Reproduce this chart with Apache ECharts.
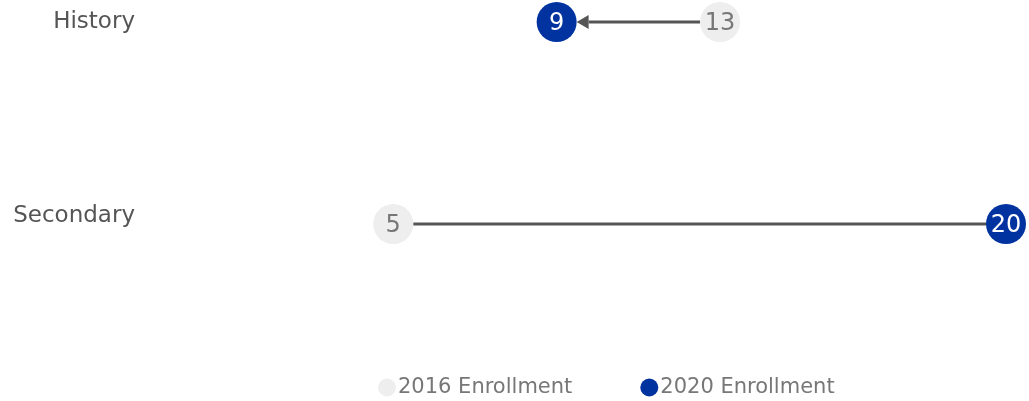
<!DOCTYPE html>
<html>
<head>
<meta charset="utf-8">
<script src="https://cdn.jsdelivr.net/npm/echarts@6/dist/echarts.min.js"></script>
<style>
  html, body { margin: 0; padding: 0; background: #fff; }
  #main { width: 1029px; height: 401px; }
</style>
</head>
<body>
<div id="main"></div>
<script>
// data
var categories = ['History', 'Secondary'];
var enroll2016 = [13, 5];
var enroll2020 = [9, 20];
var seriesNames = ['2016 Enrollment', '2020 Enrollment'];

var FONT = 'DejaVu Sans';
var R = 20; // circle radius

var chart = echarts.init(document.getElementById('main'));

// pairs for connecting lines: [from, to, categoryIndex]
var pairs = categories.map(function (c, i) {
  return [enroll2016[i], enroll2020[i], i];
});

var option = {
  backgroundColor: '#fff',
  animation: false,
  grid: { left: 189, right: 23, top: 22, bottom: 177 },
  xAxis: {
    type: 'value',
    min: 0,
    max: 20,
    show: false
  },
  yAxis: {
    type: 'category',
    data: categories,
    inverse: true,
    boundaryGap: false,
    axisLine: { show: false },
    axisTick: { show: false },
    splitLine: { show: false },
    axisLabel: {
      margin: 54,
      color: '#555',
      fontFamily: FONT,
      fontSize: 23,
      formatter: function (v) {
        return v === 'Secondary' ? '{up|' + v + '}' : v;
      },
      rich: {
        up: { color: '#555', fontFamily: FONT, fontSize: 23, padding: [0, 0, 16, 0] }
      }
    }
  },
  legend: {
    top: 372,
    left: 373,
    itemGap: 68,
    itemWidth: 18,
    itemHeight: 18,
    icon: 'circle',
    textStyle: { color: '#777', fontFamily: FONT, fontSize: 21, padding: [0, 0, 0, -3] },
    data: seriesNames
  },
  series: [
    {
      name: 'line',
      type: 'custom',
      z: 1,
      data: pairs,
      renderItem: function (params, api) {
        var a = api.coord([api.value(0), api.value(2)]);
        var b = api.coord([api.value(1), api.value(2)]);
        var dir = b[0] > a[0] ? 1 : -1;
        var x1 = a[0] + dir * R;
        var x2 = b[0] - dir * R;
        var children = [];
        if (dir < 0) {
          // drop: arrow head outside the 2020 circle
          var hl = 12, hw = 7;
          children.push({
            type: 'line',
            shape: { x1: x1, y1: a[1], x2: x2 - dir * hl, y2: b[1] },
            style: { stroke: '#555', lineWidth: 3 }
          });
          children.push({
            type: 'polygon',
            shape: { points: [[x2, b[1]], [x2 - dir * hl, b[1] - hw], [x2 - dir * hl, b[1] + hw]] },
            style: { fill: '#555' }
          });
        } else {
          children.push({
            type: 'line',
            shape: { x1: x1, y1: a[1], x2: b[0], y2: b[1] },
            style: { stroke: '#555', lineWidth: 3 }
          });
        }
        return { type: 'group', children: children };
      }
    },
    {
      name: seriesNames[0],
      type: 'scatter',
      z: 3,
      symbolSize: 2 * R,
      itemStyle: { color: '#EEEEEE', opacity: 1 },
      label: {
        show: true,
        position: 'inside',
        color: '#777',
        fontFamily: FONT,
        fontSize: 24,
        offset: [0, 2],
        formatter: function (p) { return p.value[0]; }
      },
      data: enroll2016.map(function (v, i) { return [v, categories[i]]; })
    },
    {
      name: seriesNames[1],
      type: 'scatter',
      z: 3,
      symbolSize: 2 * R,
      itemStyle: { color: '#0033A0', opacity: 1 },
      label: {
        show: true,
        position: 'inside',
        color: '#fff',
        fontFamily: FONT,
        fontSize: 24,
        offset: [0, 2],
        formatter: function (p) { return p.value[0]; }
      },
      data: enroll2020.map(function (v, i) { return [v, categories[i]]; })
    }
  ]
};

chart.setOption(option);
</script>
</body>
</html>
